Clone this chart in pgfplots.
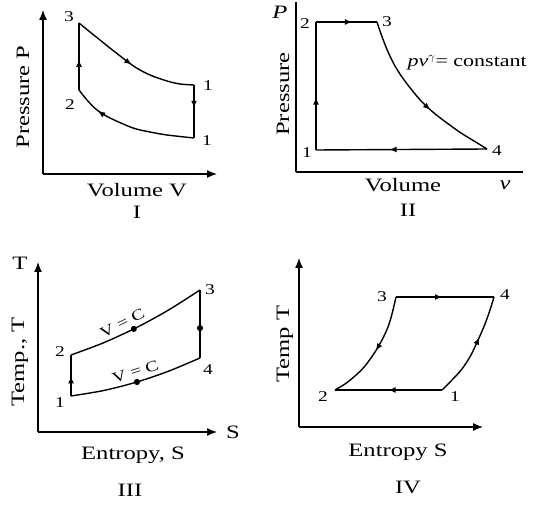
\documentclass[border=0pt]{standalone}
\usepackage{fontspec}
\setmainfont{Liberation Serif}[FakeStretch=1.3]
\usepackage{pgfplots}
\pgfplotsset{compat=1.18}
\usetikzlibrary{decorations.markings, arrows.meta}
\newcommand\lbl{\fontsize{19}{22}\selectfont}
\newcommand\num{\fontsize{15}{18}\selectfont}
\tikzset{
  midarrow/.style={postaction={decorate}, decoration={markings, mark=at position #1 with {\arrow{Latex[length=7bp,width=6bp]}}}},
  middot/.style={postaction={decorate}, decoration={markings, mark=at position #1 with {\fill circle (2.3bp);}}},
}
\pgfplotsset{
  cyc/.style={
    x=1bp, y=1bp, xmin=0, ymin=0, enlargelimits=false,
    axis lines*=left, xtick=\empty, ytick=\empty, clip=false,
    anchor=south west,
    axis line style={line width=1.3bp, black, -{Latex[length=10bp,width=8bp]}},
    every axis plot/.append style={line width=1.4bp, black, no markers},
  }
}
\begin{document}
\begin{tikzpicture}
\path[use as bounding box] (0,0) rectangle (550bp,513bp);
% ---------- Panel I ----------
\begin{axis}[cyc, at={(43bp,339bp)}, xmax=174, ymax=164]
\addplot[midarrow=0.45] coordinates {(36,84) (36,151)};
\addplot[smooth, midarrow=0.5] coordinates {(36,151) (47,142) (57,134) (72,122) (92,107) (107,99) (124,93) (137,90) (151,89)};
\addplot[midarrow=0.43] coordinates {(151,89) (151,36)};
\addplot[smooth, midarrow=0.78] coordinates {(151,36) (124,39) (107,42) (90,46) (67,56) (54,64) (44,74) (36,84)};
\node[font=\num] at (axis cs:26,157) {3};
\node[font=\num] at (axis cs:27,69) {2};
\node[font=\num] at (axis cs:165,88) {1};
\node[font=\num] at (axis cs:164,33) {1};
\node[font=\lbl, rotate=90] at (axis cs:-20,77) {Pressure P};
\node[font=\lbl] at (axis cs:94,-16) {Volume V};
\node[font=\lbl] at (axis cs:94,-38) {I};
\end{axis}
% ---------- Panel II ----------
\begin{axis}[cyc, at={(296bp,341bp)}, xmax=227, ymax=170, axis line style={-}]
\addplot[midarrow=0.41] coordinates {(20,22) (20,150)};
\addplot[midarrow=0.59] coordinates {(20,150) (81,150)};
\addplot[smooth, midarrow=0.6] coordinates {(81,150) (84,141) (88,130) (93,118) (99,106) (106,95) (115,83) (126,70) (138,59) (151,49) (165,39) (178,31) (191,23)};
\addplot[midarrow=0.57] coordinates {(191,23) (20,22)};
\node[font=\lbl\itshape] at (axis cs:-16,160) {P};
\node[font=\num] at (axis cs:9,148) {2};
\node[font=\num] at (axis cs:91,150) {3};
\node[font=\num] at (axis cs:11,19) {1};
\node[font=\num] at (axis cs:201,21) {4};
\node[font=\lbl, rotate=90] at (axis cs:-13,78) {Pressure};
\node[font=\fontsize{17}{20}\selectfont, anchor=west] at (axis cs:108,109) {\textit{pv}$^{\gamma}$= constant};
\node[font=\lbl] at (axis cs:107,-13) {Volume};
\node[font=\lbl\itshape] at (axis cs:209,-13) {v};
\node[font=\lbl] at (axis cs:112,-38) {II};
\end{axis}
% ---------- Panel III ----------
\begin{axis}[cyc, at={(38bp,81bp)}, xmax=179, ymax=170]
\addplot[midarrow=0.48] coordinates {(33,36) (33,77)};
\addplot[smooth, middot=0.47] coordinates {(33,77) (65.25,89.1) (97.5,103.9) (129.75,121.5) (162,142)};
\addplot[middot=0.56] coordinates {(162,142) (162,74)};
\addplot[smooth, middot=0.5] coordinates {(162,74) (129.75,60.5) (97.5,49.6) (65.25,41.4) (33,36)};
\node[font=\lbl] at (axis cs:-18,169) {T};
\node[font=\lbl] at (axis cs:195,0) {S};
\node[font=\num] at (axis cs:22,80) {2};
\node[font=\num] at (axis cs:22,29) {1};
\node[font=\num] at (axis cs:172,142) {3};
\node[font=\num] at (axis cs:170,62) {4};
\node[font=\num, rotate=26, anchor=south] at (axis cs:88,101) {V = C};
\node[font=\num, rotate=18, anchor=south] at (axis cs:100,52) {V = C};
\node[font=\lbl, rotate=90] at (axis cs:-18,70) {Temp., T};
\node[font=\lbl] at (axis cs:95,-23) {Entropy, S};
\node[font=\lbl] at (axis cs:92,-58) {III};
\end{axis}
% ---------- Panel IV ----------
\begin{axis}[cyc, at={(299bp,86bp)}, xmax=184, ymax=169]
\addplot[midarrow=0.47] coordinates {(97,130) (195,130)};
\addplot[smooth, midarrow=0.6] coordinates {(143,37) (153,47) (163,58) (172,72) (180,89) (186,103) (191,117) (195,130)};
\addplot[midarrow=0.5] coordinates {(143,37) (36,37)};
\addplot[smooth, midarrow=0.5] coordinates {(97,130) (93,113) (89,100) (83,87) (76,75) (66,61) (56,51) (46,43) (36,37)};
\node[font=\num] at (axis cs:83,130) {3};
\node[font=\num] at (axis cs:206,132) {4};
\node[font=\num] at (axis cs:24,30) {2};
\node[font=\num] at (axis cs:156,30) {1};
\node[font=\lbl, rotate=90] at (axis cs:-14,83) {Temp T};
\node[font=\lbl] at (axis cs:99,-25) {Entropy S};
\node[font=\lbl] at (axis cs:109,-60) {IV};
\end{axis}
\end{tikzpicture}
\end{document}
